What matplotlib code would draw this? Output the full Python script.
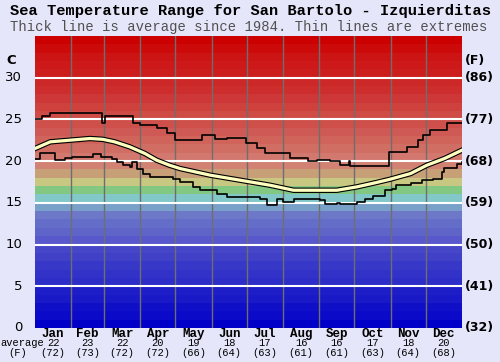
import matplotlib
matplotlib.use("Agg")
from matplotlib import pyplot as plt
import matplotlib.patheffects as pe
import matplotlib.transforms as mtransforms

# Month names and monthly averages shown under the axis
months = ["Jan", "Feb", "Mar", "Apr", "May", "Jun",
          "Jul", "Aug", "Sep", "Oct", "Nov", "Dec"]
avg_c = [22, 23, 22, 20, 19, 18, 17, 16, 16, 17, 18, 20]
avg_f = [72, 73, 72, 72, 66, 64, 63, 61, 61, 63, 64, 68]
month_days = [31, 28, 31, 30, 31, 30, 31, 31, 30, 31, 30, 31]

# Average line (day of year, deg C)
avg_day = [0, 13, 30, 47, 58, 68, 81, 94, 104, 115, 124, 137, 150, 167,
           184, 201, 221, 244, 258, 275, 291, 303, 321, 335, 350, 365]
avg_temp = [21.5, 22.3, 22.5, 22.7, 22.6, 22.3, 21.7, 20.9, 20.1, 19.5,
            19.1, 18.7, 18.3, 17.9, 17.5, 17.1, 16.5, 16.5, 16.5, 16.9,
            17.4, 17.8, 18.5, 19.5, 20.3, 21.3]

# Highest recorded (steps)
max_day = [0, 6, 13, 57, 60, 84, 90, 104, 113, 120, 143, 154, 164, 180,
           190, 197, 218, 233, 241, 252, 261, 268, 269, 303, 318, 327,
           332, 338, 352, 359, 365]
max_temp = [25.0, 25.4, 25.8, 24.5, 25.4, 24.6, 24.3, 23.9, 23.3, 22.5,
            23.1, 22.6, 22.8, 22.2, 21.6, 21.0, 20.4, 20.0, 20.1, 20.0,
            19.5, 20.0, 19.4, 21.1, 21.7, 22.5, 23.1, 23.7, 24.6, 24.5,
            24.5]

# Lowest recorded (steps)
min_day = [0, 4, 17, 26, 32, 50, 56, 66, 70, 75, 81, 83, 87, 92, 98, 118,
           124, 135, 141, 156, 164, 192, 198, 207, 212, 221, 244, 248, 258,
           261, 275, 282, 289, 299, 305, 309, 321, 331, 340, 348, 350, 361,
           365]
min_temp = [20.3, 21.0, 20.1, 20.4, 20.5, 20.9, 20.5, 20.3, 19.9, 19.5,
            19.3, 19.9, 19.1, 18.5, 18.1, 17.9, 17.5, 16.9, 16.5, 16.1,
            15.7, 15.5, 14.7, 15.4, 15.1, 15.5, 15.3, 14.9, 15.0, 14.8,
            15.1, 15.5, 15.8, 16.5, 16.7, 17.1, 17.4, 17.7, 17.9, 18.7,
            19.2, 19.6, 19.9]

# Background band colours, one per degree from 0 up to 35
band_rgb = [
    (0, 0, 200), (10, 10, 200), (15, 15, 200), (25, 25, 200), (30, 30, 200),
    (45, 45, 200), (50, 50, 200), (55, 55, 200), (65, 65, 200), (70, 70, 200),
    (88, 88, 204), (95, 100, 200), (100, 110, 200), (110, 120, 200),
    (120, 160, 200), (130, 200, 200), (130, 200, 130), (200, 200, 130),
    (200, 160, 120), (210, 130, 115), (210, 120, 110), (208, 110, 100),
    (208, 100, 90), (207, 90, 85), (207, 80, 75), (206, 75, 70),
    (206, 65, 60), (206, 55, 55), (205, 45, 45), (205, 40, 40),
    (205, 30, 30), (205, 25, 25), (204, 20, 20), (204, 10, 10), (204, 0, 0),
]

fig = plt.figure(figsize=(5.0, 3.62), dpi=100, facecolor="#e6e6fa")
ax = fig.add_axes([0.07, 0.094, 0.854, 0.807])

for i, c in enumerate(band_rgb):
    ax.axhspan(i, i + 1, color=tuple(v / 255 for v in c), lw=0, zorder=0)

# month separators
edge = 0
for d in month_days[:-1]:
    edge += d
    ax.axvline(edge, color="#6e6e6e", lw=1, zorder=1)
for t in range(5, 35, 5):
    ax.axhline(t, color="white", lw=1.5, zorder=2)

ax.plot(max_day, max_temp, drawstyle="steps-post", color="black", lw=1.2, zorder=3)
ax.plot(min_day, min_temp, drawstyle="steps-post", color="black", lw=1.2, zorder=3)
ax.plot(avg_day, avg_temp, color="#ffffc0", lw=2.3, zorder=4,
        path_effects=[pe.Stroke(linewidth=3.9, foreground="black"), pe.Normal()])

ax.set_xlim(0, 365)
ax.set_ylim(0, 35)
ax.set_xticks([])
ax.set_yticks([])
for s in ax.spines.values():
    s.set_visible(False)

# y labels
ty = mtransforms.blended_transform_factory(ax.transAxes, ax.transData)
for t in range(0, 35, 5):
    f = round(t * 9 / 5 + 32)
    ax.text(-0.03, t, str(t), transform=ty, ha="right", va="center",
            fontsize=9.5, family="DejaVu Sans", color="black")
    ax.text(1.007, t, "(%d)" % f, transform=ty, ha="left", va="center",
            fontsize=9, family="DejaVu Sans", weight="bold", color="black")
ax.text(-0.045, 32.0, "C", transform=ty, ha="right", va="center",
        fontsize=9.5, family="DejaVu Sans", weight="bold")
ax.text(1.007, 32.0, "(F)", transform=ty, ha="left", va="center",
        fontsize=9, family="DejaVu Sans", weight="bold")

# x labels
tx = mtransforms.blended_transform_factory(ax.transData, fig.transFigure)
start = 0
for m, d, c, f in zip(months, month_days, avg_c, avg_f):
    mid = start + d / 2
    start += d
    ax.text(mid, 1 - 334 / 362, m, transform=tx, ha="center", va="center",
            fontsize=9, family="Liberation Mono", weight="bold")
    ax.text(mid, 1 - 343.5 / 362, str(c), transform=tx, ha="center",
            va="center", fontsize=7.5, family="Liberation Mono")
    ax.text(mid, 1 - 353 / 362, "(%d)" % f, transform=tx, ha="center",
            va="center", fontsize=7.5, family="Liberation Mono")
fig.text(22 / 500, 1 - 343.5 / 362, "average", ha="center", va="center",
         fontsize=7.5, family="Liberation Mono")
fig.text(18 / 500, 1 - 353 / 362, "(F)", ha="center", va="center",
         fontsize=7.5, family="Liberation Mono")

fig.text(0.5, 1 - 11 / 362, "Sea Temperature Range for San Bartolo - Izquierditas",
         ha="center", va="center", fontsize=11.1, family="Liberation Mono",
         weight="bold")
fig.text(0.497, 1 - 27 / 362,
         "Thick line is average since 1984. Thin lines are extremes",
         ha="center", va="center", fontsize=10, family="Liberation Mono",
         color="#505050")

fig.savefig("out.png", dpi=100, facecolor=fig.get_facecolor())
